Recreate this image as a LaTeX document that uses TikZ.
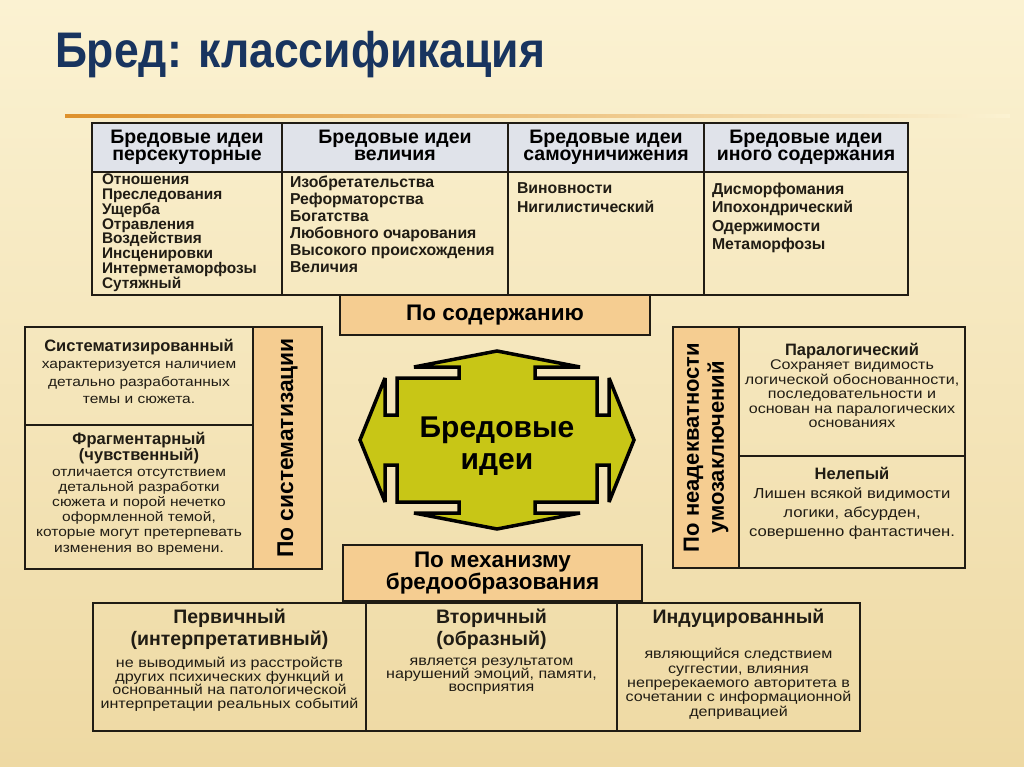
\documentclass[tikz,border=0pt]{standalone}
\usepackage{fontspec}
\setmainfont{Liberation Sans}
\newfontfamily\descfont{Liberation Sans}[FakeStretch=1.15]
\usetikzlibrary{positioning}

\definecolor{slidetop}{RGB}{251,242,210}
\definecolor{slidebot}{RGB}{238,217,163}
\definecolor{titlenavy}{RGB}{24,52,95}
\definecolor{rulegold}{RGB}{222,145,45}
\definecolor{headgray}{RGB}{224,227,234}
\definecolor{tabbox}{RGB}{245,205,145}
\definecolor{ideaolive}{RGB}{200,198,22}
\definecolor{inkdark}{RGB}{32,28,20}

\newcommand{\fsz}[2]{\fontsize{#1}{#2}\selectfont}
\newcommand{\kindname}[1]{{\rmfamily\bfseries\fsz{16.5}{16}#1}}

\begin{document}
\begin{tikzpicture}[x=1pt,y=-1pt,outer sep=0pt,
    frame/.style={draw=inkdark,line width=1.5pt,inner sep=0pt},
    headcell/.style={frame,fill=headgray,minimum height=49pt,
      align=center,font=\bfseries\fsz{19.5}{17.5}},
    listcell/.style={frame,minimum height=123pt},
    listtext/.style={anchor=north west,inner sep=0pt,align=left,
      text=inkdark,font=\bfseries\fsz{15.8}{17}},
    tagbox/.style={draw=inkdark,line width=2.8pt,fill=tabbox,
      inner sep=0pt,align=center,font=\bfseries\fsz{22.5}{19.5}},
    kindcell/.style={frame},
    kindhead/.style={anchor=north,inner sep=0pt,align=center,
      text=inkdark,font=\bfseries\fsz{19.5}{22}},
    kindtext/.style={anchor=north,inner sep=0pt,align=center,
      text=inkdark,font=\descfont\fsz{14}{13.4}},
    idea/.style={draw=black,line width=3.5pt,miter limit=4,fill=ideaolive}]

  % slide
  \shade[top color=slidetop,bottom color=slidebot] (0,0) rectangle (1024,767);
  \useasboundingbox (0,0) rectangle (1024,767);

  \node[anchor=base west,inner sep=0pt,text=titlenavy,
    font=\bfseries\fsz{50}{50}] (title) at (55,68)
    {\scalebox{0.89}[1]{Бред: классификация}};
  \shade[left color=rulegold,right color=slidetop] (65,115) rectangle (1010,118);

  % content table
  \node[headcell,minimum width=190pt,anchor=north west] (hpers) at (92,123)
    {Бредовые идеи\\персекуторные};
  \node[headcell,minimum width=226pt,right=0pt of hpers] (hgrand)
    {Бредовые идеи\\величия\vphantom{у}};
  \node[headcell,minimum width=196pt,right=0pt of hgrand] (hself)
    {Бредовые идеи\\самоуничижения};
  \node[headcell,minimum width=204pt,right=0pt of hself] (hother)
    {Бредовые идеи\\иного содержания};

  \node[listcell,minimum width=190pt,below=0pt of hpers] (lpers) {};
  \node[listcell,minimum width=226pt,below=0pt of hgrand] (lgrand) {};
  \node[listcell,minimum width=196pt,below=0pt of hself] (lself) {};
  \node[listcell,minimum width=204pt,below=0pt of hother] (lother) {};

  \node[listtext,font=\bfseries\fsz{15.4}{14.8}] (tpers) at (102,174)
    {Отношения\\Преследования\\Ущерба\\Отравления\\Воздействия\\Инсценировки\\Интерметаморфозы\\Сутяжный};
  \node[listtext] (tgrand) at (290,175.5)
    {Изобретательства\\Реформаторства\\Богатства\\Любовного очарования\\Высокого происхождения\\Величия};
  \node[listtext,font=\bfseries\fsz{15.8}{18.5}] (tself) at (517,183)
    {Виновности\\Нигилистический};
  \node[listtext,font=\bfseries\fsz{15.8}{18.5}] (tother) at (712,183)
    {Дисморфомания\\Ипохондрический\\Одержимости\\Метаморфозы};

  \node[tagbox,minimum width=310pt,minimum height=40pt,anchor=north west] (bycontent)
    at (340,295) {По содержанию};

  % systematisation
  \node[kindcell,minimum width=228pt,minimum height=98pt,anchor=north east] (systematic)
    at (253,327) {};
  \node[kindcell,minimum width=228pt,minimum height=144pt,below=0pt of systematic] (fragment) {};
  \node[kindtext,font=\descfont\fsz{13.5}{17.5}] (tsystematic) at (139,339)
    {\kindname{Систематизированный}\\характеризуется наличием\\детально разработанных\\темы и сюжета.};
  \node[kindtext,font=\descfont\fsz{13.5}{15.2}] (tfragment) at (139,432)
    {\kindname{Фрагментарный}\\\kindname{(чувственный)}\\отличается отсутствием\\детальной разработки\\сюжета и порой нечетко\\оформленной темой,\\которые могут претерпевать\\изменения во времени.};
  \node[tagbox,rotate=90,minimum width=242pt,minimum height=69pt,
    font=\bfseries\fsz{22.8}{24}] (bysystem) at (287.5,448) {По систематизации};

  % inadequacy
  \node[kindcell,minimum width=226pt,minimum height=129pt,anchor=north west] (paralogic)
    at (739,327) {};
  \node[kindcell,minimum width=226pt,minimum height=112pt,below=0pt of paralogic] (absurd) {};
  \node[kindtext,font=\descfont\fsz{14}{14.5}] (tparalogic) at (852,343)
    {\kindname{Паралогический}\\Сохраняет видимость\\логической  обоснованности,\\последовательности и\\основан на паралогических\\основаниях};
  \node[kindtext,font=\descfont\fsz{14.5}{19}] (tabsurd) at (852,467)
    {\kindname{Нелепый}\\Лишен всякой видимости\\логики, абсурден,\\совершенно фантастичен.};
  \node[tagbox,rotate=90,minimum width=241pt,minimum height=66pt,
    font=\bfseries\fsz{22}{25}] (byabsurd) at (706,447.5) {По неадекватности\\умозаключений};

  % centre
  \begin{scope}[shift={(497,440)}]
    \draw[idea] (0,-89) -- (83,-73) -- (38,-73) -- (38,-62) -- (100,-62) -- (100,-25)
      -- (112,-25) -- (112,-62) -- (137,0) -- (112,62) -- (112,25) -- (100,25)
      -- (100,62) -- (38,62) -- (38,73) -- (83,73) -- (0,89) -- (-83,73) -- (-38,73)
      -- (-38,62) -- (-100,62) -- (-100,25) -- (-112,25) -- (-112,62) -- (-137,0)
      -- (-112,-62) -- (-112,-25) -- (-100,-25) -- (-100,-62) -- (-38,-62)
      -- (-38,-73) -- (-83,-73) -- cycle;
  \end{scope}
  \node[align=center,inner sep=0pt,font=\bfseries\fsz{30}{32}] (ideas) at (497,446)
    {Бредовые\\идеи};

  % mechanism
  \node[tagbox,minimum width=299pt,minimum height=56pt,anchor=north west] (bymechanism)
    at (343,545) {По механизму\\бредообразования};

  \node[kindcell,line width=2.2pt,minimum width=273pt,minimum height=128pt,anchor=north west]
    (primary) at (93,603) {};
  \node[kindcell,line width=2.2pt,minimum width=251pt,minimum height=128pt,right=0pt of primary]
    (secondary) {};
  \node[kindcell,line width=2.2pt,minimum width=243pt,minimum height=128pt,right=0pt of secondary]
    (induced) {};

  \node[kindhead] (hprimary) at (229.5,609) {Первичный\\(интерпретативный)};
  \node[kindhead] (hsecondary) at (491.5,609) {Вторичный\\(образный)};
  \node[kindhead] (hinduced) at (738.5,609) {Индуцированный};
  \node[kindtext] (tprimary) at (229.5,657.5)
    {не выводимый из расстройств\\других психических функций и\\основанный на патологической\\интерпретации реальных событий};
  \node[kindtext] (tsecondary) at (491.5,657.5)
    {является результатом\\нарушений эмоций, памяти,\\восприятия};
  \node[kindtext,font=\descfont\fsz{14}{14.3}] (tinduced) at (738.5,648.5)
    {являющийся следствием\\суггестии, влияния\\непререкаемого авторитета в\\сочетании с информационной\\депривацией};

\end{tikzpicture}
\end{document}
